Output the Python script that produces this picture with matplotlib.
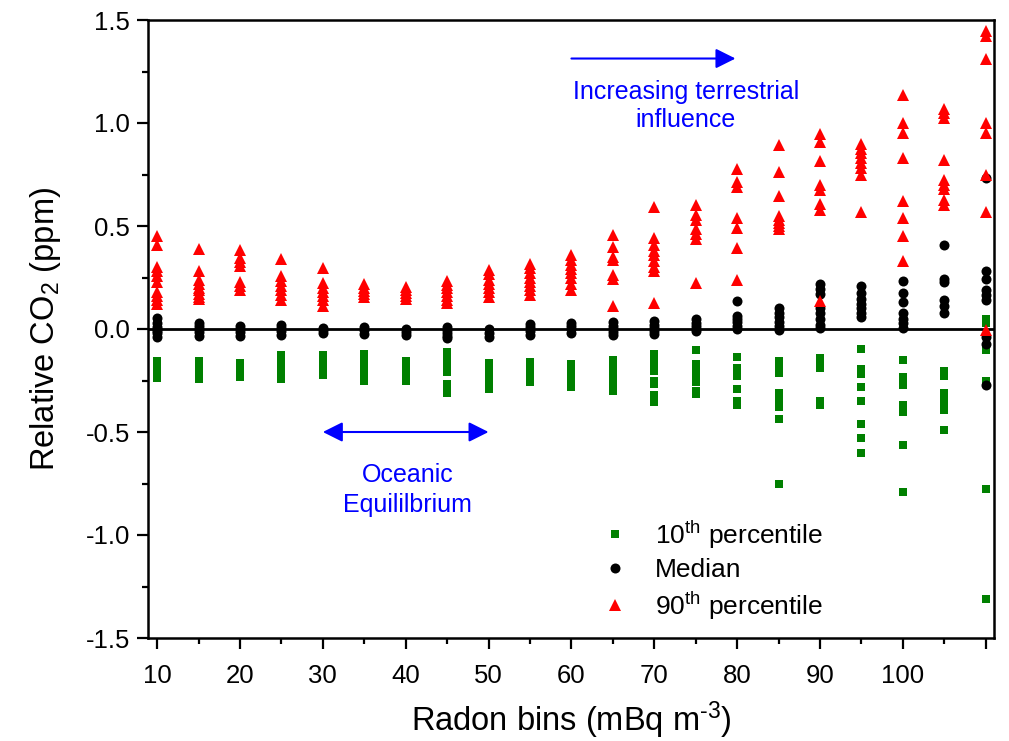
import matplotlib
matplotlib.use("Agg")
import matplotlib.pyplot as plt
from matplotlib.ticker import MultipleLocator, FixedLocator, FixedFormatter

plt.rcParams['font.family'] = ['Liberation Sans', 'DejaVu Sans']
plt.rcParams['mathtext.fontset'] = 'custom'
plt.rcParams['mathtext.rm'] = 'Liberation Sans'
plt.rcParams['mathtext.it'] = 'Liberation Sans:italic'
plt.rcParams['mathtext.bf'] = 'Liberation Sans:bold'
plt.rcParams['axes.unicode_minus'] = False

bins = [10, 15, 20, 25, 30, 35, 40, 45, 50, 55, 60, 65, 70, 75, 80, 85, 90, 95, 100, 105, 110]

p90 = [
    [0.45, 0.41, 0.30, 0.28, 0.255, 0.23, 0.18, 0.16, 0.14, 0.12],
    [0.39, 0.28, 0.24, 0.22, 0.20, 0.19, 0.17, 0.155, 0.145],
    [0.385, 0.345, 0.325, 0.305, 0.23, 0.21, 0.19],
    [0.34, 0.255, 0.235, 0.21, 0.19, 0.165, 0.14],
    [0.295, 0.225, 0.20, 0.18, 0.16, 0.14, 0.11],
    [0.22, 0.20, 0.185, 0.17, 0.155],
    [0.205, 0.19, 0.175, 0.16, 0.145],
    [0.235, 0.215, 0.20, 0.18, 0.16, 0.14, 0.125],
    [0.285, 0.265, 0.24, 0.22, 0.20, 0.18, 0.155],
    [0.315, 0.295, 0.27, 0.25, 0.23, 0.21, 0.19, 0.165],
    [0.36, 0.335, 0.31, 0.29, 0.27, 0.25, 0.22, 0.19],
    [0.455, 0.40, 0.35, 0.335, 0.26, 0.245, 0.11],
    [0.59, 0.44, 0.41, 0.38, 0.36, 0.33, 0.30, 0.28, 0.125],
    [0.60, 0.555, 0.53, 0.485, 0.46, 0.435, 0.225],
    [0.775, 0.715, 0.69, 0.54, 0.49, 0.395, 0.24],
    [0.895, 0.76, 0.645, 0.55, 0.53, 0.515, 0.50, 0.485],
    [0.945, 0.91, 0.815, 0.70, 0.675, 0.605, 0.58, 0.135],
    [0.90, 0.875, 0.855, 0.83, 0.805, 0.78, 0.75, 0.57],
    [1.135, 1.0, 0.95, 0.83, 0.62, 0.54, 0.45, 0.33],
    [1.07, 1.05, 1.025, 0.82, 0.725, 0.70, 0.68, 0.625, 0.60],
    [1.445, 1.42, 1.31, 1.0, 0.95, 0.75, 0.57, -0.005],
]

median = [
    [0.055, 0.03, 0.01, 0.0, -0.01, -0.02, -0.04],
    [0.03, 0.015, 0.0, -0.015, -0.035],
    [0.015, 0.0, -0.015, -0.035],
    [0.02, 0.005, -0.01, -0.03],
    [0.005, -0.005, -0.02],
    [0.01, -0.005, -0.025],
    [0.0, -0.015, -0.03],
    [0.01, -0.005, -0.02, -0.035, -0.045],
    [0.0, -0.02, -0.04],
    [0.025, 0.01, -0.01, -0.03],
    [0.03, 0.015, 0.0, -0.02],
    [0.035, 0.015, 0.0, -0.015, -0.03],
    [0.04, 0.02, 0.005, -0.01, -0.025],
    [0.05, 0.03, 0.015, 0.0, -0.01],
    [0.135, 0.065, 0.05, 0.035, 0.015, 0.0],
    [0.10, 0.08, 0.06, 0.035, 0.015, -0.005],
    [0.22, 0.195, 0.17, 0.10, 0.08, 0.05, 0.02, 0.005],
    [0.21, 0.175, 0.145, 0.12, 0.10, 0.08, 0.06],
    [0.235, 0.175, 0.13, 0.08, 0.05, 0.03, 0.005],
    [0.41, 0.245, 0.23, 0.14, 0.11, 0.08],
    [0.735, 0.28, 0.245, 0.19, 0.165, 0.14, -0.04, -0.075, -0.27],
]

p10 = [
    [-0.155, -0.17, -0.185, -0.20, -0.215, -0.23, -0.24],
    [-0.155, -0.17, -0.19, -0.21, -0.23, -0.245],
    [-0.165, -0.18, -0.20, -0.22, -0.235],
    [-0.125, -0.145, -0.165, -0.185, -0.205, -0.225, -0.245],
    [-0.125, -0.145, -0.165, -0.185, -0.205, -0.225],
    [-0.12, -0.14, -0.165, -0.18, -0.20, -0.225, -0.25],
    [-0.155, -0.175, -0.195, -0.215, -0.235, -0.25],
    [-0.11, -0.13, -0.15, -0.17, -0.19, -0.21, -0.265, -0.285, -0.31],
    [-0.165, -0.185, -0.205, -0.225, -0.245, -0.27, -0.29],
    [-0.16, -0.18, -0.20, -0.22, -0.24, -0.255],
    [-0.17, -0.19, -0.21, -0.23, -0.26, -0.28],
    [-0.15, -0.17, -0.19, -0.21, -0.23, -0.25, -0.27, -0.29, -0.30],
    [-0.12, -0.14, -0.16, -0.185, -0.205, -0.25, -0.265, -0.32, -0.355],
    [-0.10, -0.17, -0.195, -0.215, -0.235, -0.255, -0.30, -0.315],
    [-0.135, -0.19, -0.21, -0.23, -0.29, -0.35, -0.37],
    [-0.155, -0.18, -0.215, -0.31, -0.33, -0.355, -0.38, -0.435, -0.75],
    [-0.14, -0.17, -0.19, -0.35, -0.37],
    [-0.095, -0.195, -0.22, -0.28, -0.35, -0.46, -0.53, -0.60],
    [-0.15, -0.235, -0.27, -0.37, -0.405, -0.565, -0.79],
    [-0.205, -0.23, -0.31, -0.335, -0.36, -0.395, -0.49],
    [0.05, 0.03, -0.10, -0.25, -0.775, -1.31],
]

x_tick_values = [10, 20, 30, 40, 50, 60, 70, 80, 90, 100, 110]
x_tick_labels = ['10', '20', '30', '40', '50', '60', '70', '80', '90', '100', '']
y_tick_values = [-1.5, -1.0, -0.5, 0.0, 0.5, 1.0, 1.5]
y_tick_labels = ['-1.5', '-1.0', '-0.5', '0.0', '0.5', '1.0', '1.5']


def flatten(series):
    xs, ys = [], []
    for b, vals in zip(bins, series):
        for v in vals:
            xs.append(b)
            ys.append(v)
    return xs, ys


fig = plt.figure(figsize=(10.09, 7.41), dpi=100)
ax = fig.add_axes([148 / 1009, 1 - 638 / 741, (994 - 148) / 1009, (638 - 20) / 741])

ax.axhline(0, color='black', lw=2.0, zorder=1)

gx, gy = flatten(p10)
mx, my = flatten(median)
rx, ry = flatten(p90)
ax.plot(gx, gy, linestyle='none', marker='s', ms=5.8, color='#008000', mew=0,
        label='10$^{\\mathrm{th}}$ percentile', zorder=3)
ax.plot(mx, my, linestyle='none', marker='o', ms=7.2, color='black', mew=0,
        label='Median', zorder=4)
ax.plot(rx, ry, linestyle='none', marker='^', ms=8.8, color='#ff0000', mew=0,
        label='90$^{\\mathrm{th}}$ percentile', zorder=5)

ax.set_xlim(8.9, 111.0)
ax.set_ylim(-1.5, 1.5)

ax.xaxis.set_major_locator(FixedLocator(x_tick_values))
ax.xaxis.set_major_formatter(FixedFormatter(x_tick_labels))
ax.xaxis.set_minor_locator(MultipleLocator(5))
ax.yaxis.set_major_locator(FixedLocator(y_tick_values))
ax.yaxis.set_major_formatter(FixedFormatter(y_tick_labels))
ax.yaxis.set_minor_locator(MultipleLocator(0.25))

ax.tick_params(axis='both', which='major', direction='out', length=8, width=1.6,
               labelsize=18.5, top=False, right=False)
ax.tick_params(axis='both', which='minor', direction='out', length=4.5, width=1.6,
               top=False, right=False)
ax.tick_params(axis='x', which='major', pad=11)
ax.tick_params(axis='y', which='major', pad=5)

for s in ax.spines.values():
    s.set_linewidth(1.8)

ax.set_xlabel('Radon bins (mBq m$^{\\text{-3}}$)', fontsize=23.5, labelpad=8)
ax.set_ylabel('Relative CO$_2$ (ppm)', fontsize=23.5, labelpad=16)

# annotations
ax.annotate('', xy=(30.0, -0.5), xytext=(50.0, -0.5),
            arrowprops=dict(arrowstyle='<|-|>,head_length=1.2,head_width=0.6',
                            color='#0000ff', lw=1.5, shrinkA=0, shrinkB=0))
ax.text(40.2, -0.781, 'Oceanic\nEquililbrium', color='#0000ff', fontsize=18,
        ha='center', va='center', linespacing=1.3)

ax.annotate('', xy=(79.8, 1.313), xytext=(60.0, 1.313),
            arrowprops=dict(arrowstyle='-|>,head_length=1.2,head_width=0.6',
                            color='#0000ff', lw=1.5, shrinkA=0, shrinkB=0))
ax.text(73.8, 1.082, 'Increasing terrestrial\ninfluence', color='#0000ff', fontsize=18,
        ha='center', va='center', linespacing=1.18)

leg = ax.legend(loc='center left', bbox_to_anchor=(0.5396, 0.110), frameon=False,
                fontsize=19, handlelength=0.8, handletextpad=1.11, labelspacing=0.28,
                borderpad=0.0, borderaxespad=0.0, numpoints=1)

fig.savefig('out.png', dpi=100)
